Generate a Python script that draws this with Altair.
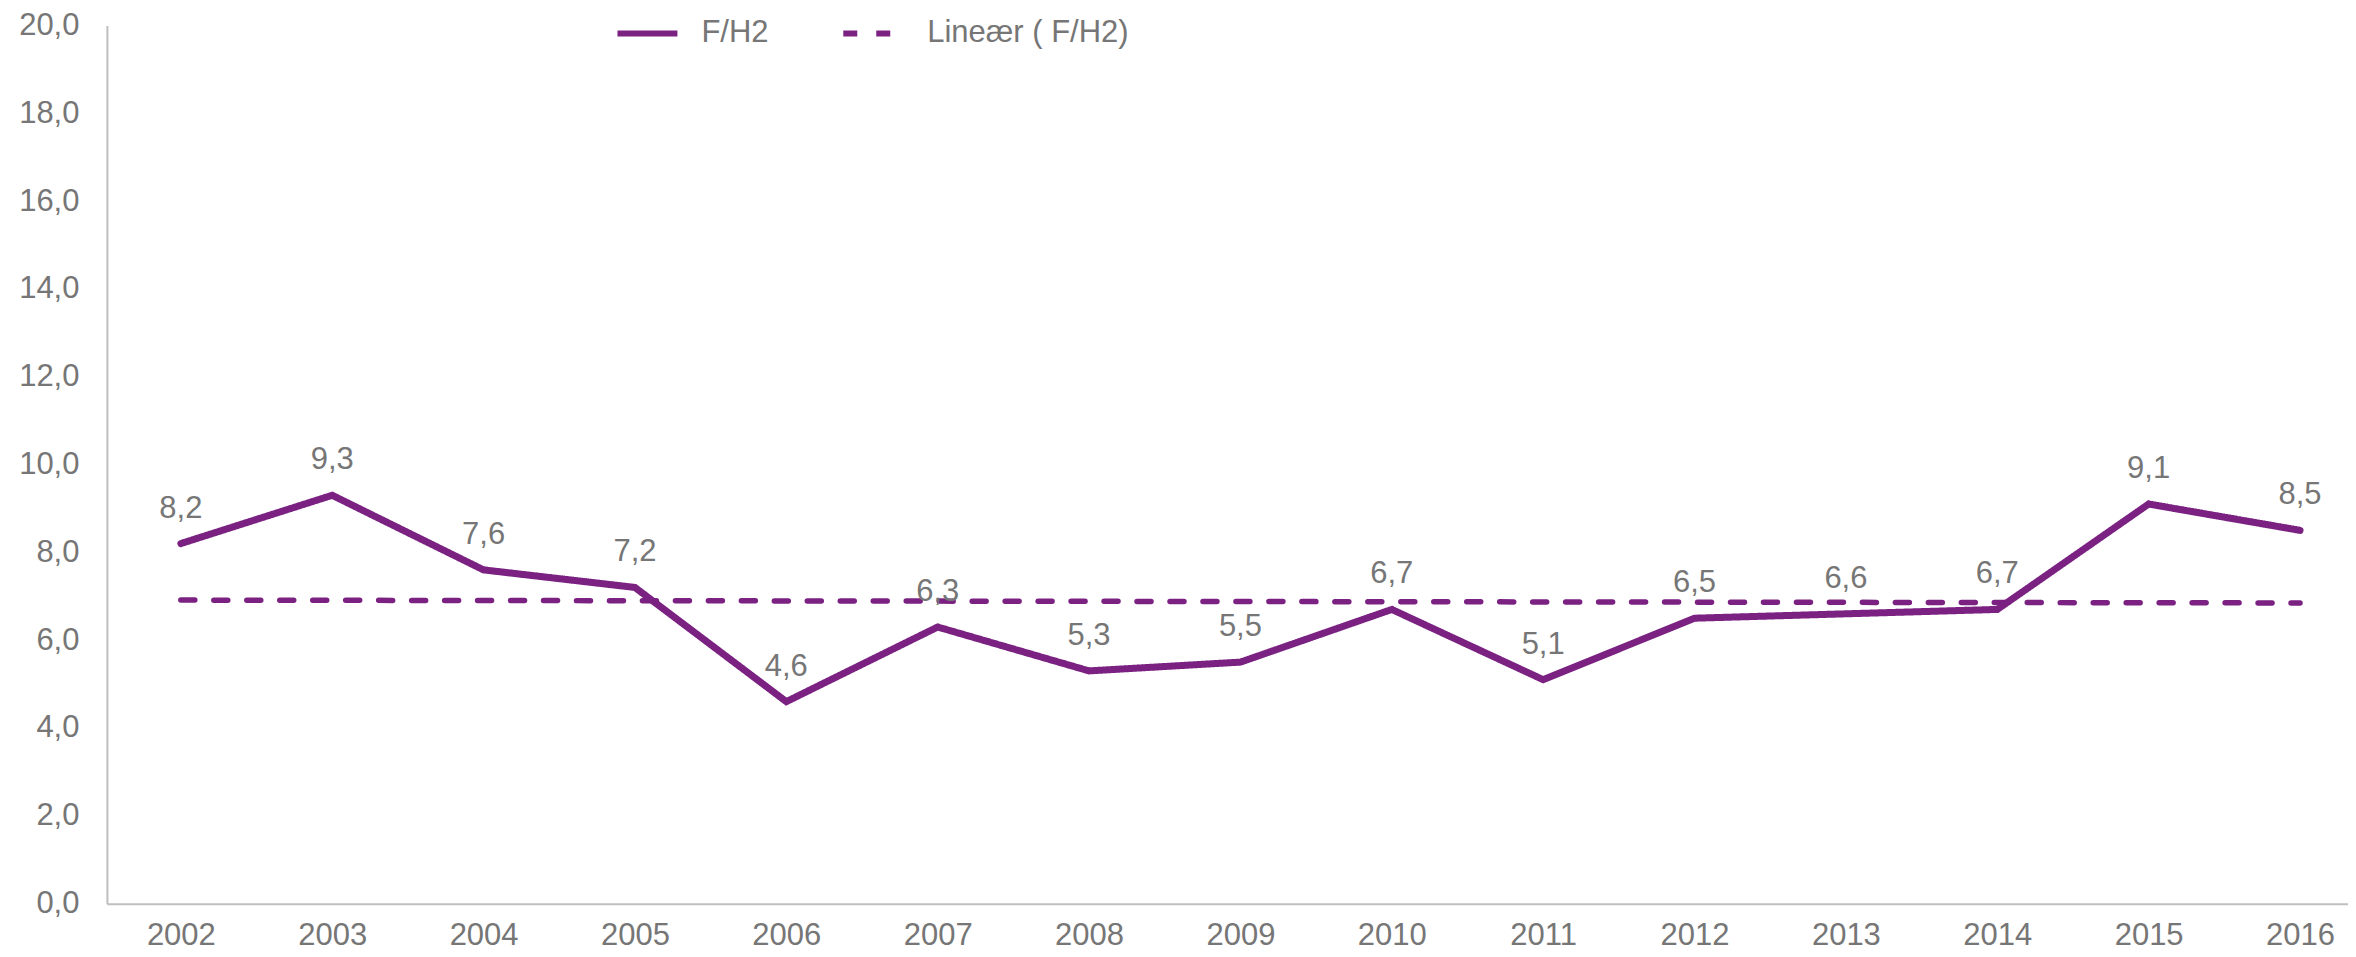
import altair as alt
import pandas as pd

years = list(range(2002, 2017))
values = [8.2, 9.3, 7.6, 7.2, 4.6, 6.3, 5.3, 5.5, 6.7, 5.1, 6.5, 6.6, 6.7, 9.1, 8.5]
series_names = ["F/H2", "Lineær ( F/H2)"]
y_ticks = [0, 2, 4, 6, 8, 10, 12, 14, 16, 18, 20]

PURPLE = "#7A2182"
GRAY = "#767676"
AXIS_GRAY = "#BFBFBF"
FONT = "Liberation Sans"
FS = 31

df = pd.DataFrame({"year": years, "value": values})

x_enc = alt.X(
    "year:Q",
    scale=alt.Scale(domain=[2001.5116, 2016.317], nice=False, zero=False),
    axis=alt.Axis(values=years, format="d", title=None, ticks=False, grid=False,
                  labelPadding=17, labelFontSize=FS, labelColor=GRAY, labelFont=FONT,
                  domainColor=AXIS_GRAY, domainWidth=2),
)
y_enc = alt.Y(
    "value:Q",
    scale=alt.Scale(domain=[0, 20], nice=False),
    axis=alt.Axis(values=y_ticks, title=None, ticks=False, grid=False,
                  labelExpr="replace(format(datum.value, '.1f'), '.', ',')",
                  labelPadding=28, labelFontSize=FS, labelColor=GRAY, labelFont=FONT,
                  domainColor=AXIS_GRAY, domainWidth=2),
)
legend = alt.Legend(title=None, orient="none", direction="horizontal",
                    legendX=508, legendY=-25)
color_enc = alt.Color(
    "series:N",
    scale=alt.Scale(domain=series_names, range=[PURPLE, PURPLE]),
    legend=legend,
)
dash_enc = alt.StrokeDash(
    "series:N",
    scale=alt.Scale(domain=series_names, range=[[1, 0], [14, 19]]),
    legend=legend,
)

line = (
    alt.Chart(df)
    .transform_calculate(series="'F/H2'")
    .mark_line(strokeWidth=7, strokeCap="round", strokeJoin="miter")
    .encode(x=x_enc, y=y_enc, color=color_enc, strokeDash=dash_enc)
)

trend = (
    alt.Chart(df)
    .transform_regression("year", "value", extent=[2002, 2016])
    .transform_calculate(series="'Lineær ( F/H2)'")
    .mark_line(strokeWidth=5.5, strokeCap="round")
    .encode(x=x_enc, y=y_enc, color=color_enc, strokeDash=dash_enc)
)

labels = (
    alt.Chart(df)
    .transform_calculate(label="replace(format(datum.value, '.1f'), '.', ',')")
    .mark_text(dy=-26, baseline="alphabetic", align="center", fontSize=FS,
               font=FONT, color=GRAY)
    .encode(x="year:Q", y="value:Q", text="label:N")
)

chart = (
    alt.layer(trend, line, labels)
    .properties(width=2243, height=879,
                padding={"left": 99, "top": 17, "right": 0, "bottom": 50},
                autosize=alt.AutoSizeParams(type="none"))
    .configure_view(stroke=None)
    .configure_legend(labelFontSize=FS, labelFont=FONT, labelColor=GRAY,
                      labelLimit=0, symbolType="stroke", symbolSize=3600,
                      symbolStrokeWidth=6, labelOffset=21, columnPadding=62)
)

chart.save("out.html", embed_options={"renderer": "svg", "actions": False})
